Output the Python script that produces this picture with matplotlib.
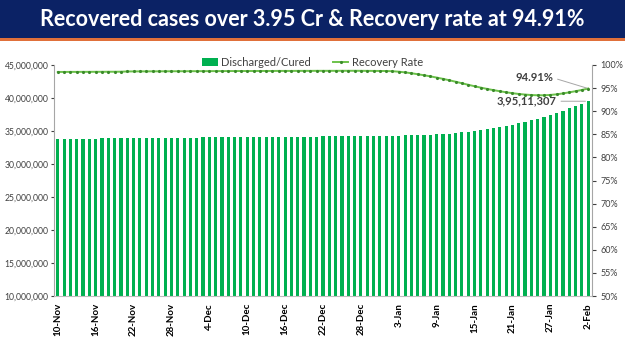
import datetime as dt
import matplotlib
matplotlib.use("Agg")
import matplotlib.pyplot as plt
import matplotlib.ticker as mticker
from matplotlib.lines import Line2D
from matplotlib.patches import Patch, Rectangle

plt.rcParams['font.family'] = ['Lato', 'DejaVu Sans']

title = "Recovered cases over 3.95 Cr & Recovery rate at 94.91%"

start = dt.date(2021, 11, 10)

# cumulative discharged / cured, millions
cured_m = [
    33.80, 33.81, 33.82, 33.83, 33.84, 33.85, 33.86, 33.87, 33.88, 33.89, 33.90,
    33.91, 33.92, 33.93, 33.94, 33.95, 33.96, 33.97, 33.97, 33.98, 33.99,
    34.00, 34.01, 34.02, 34.03, 34.04, 34.04, 34.05, 34.06, 34.07, 34.08, 34.08,
    34.09, 34.10, 34.11, 34.11, 34.12, 34.13, 34.14, 34.14, 34.15, 34.16, 34.17,
    34.17, 34.18, 34.19, 34.20, 34.20, 34.21, 34.22, 34.23, 34.24,
    34.26, 34.28, 34.30, 34.32, 34.34, 34.37, 34.40, 34.44, 34.49, 34.55, 34.62,
    34.70, 34.80, 34.90, 35.02, 35.14, 35.27, 35.42, 35.58, 35.75, 35.94, 36.15,
    36.37, 36.60, 36.85, 37.12, 37.42, 37.75, 38.08, 38.42, 38.78,
    39.16, 39.51,
]

# recovery rate, %
rate = [
    98.50, 98.50, 98.51, 98.51, 98.52, 98.52, 98.53, 98.53, 98.54, 98.54, 98.55,
    98.60, 98.61, 98.62, 98.62, 98.63, 98.63, 98.64, 98.64, 98.65, 98.65,
    98.66, 98.66, 98.67, 98.67, 98.68, 98.68, 98.69, 98.69, 98.70, 98.70, 98.70,
    98.71, 98.71, 98.71, 98.72, 98.72, 98.72, 98.73, 98.73, 98.73, 98.74, 98.74,
    98.74, 98.74, 98.75, 98.75, 98.75, 98.74, 98.73, 98.72, 98.71,
    98.70, 98.65, 98.55, 98.40, 98.22, 98.00, 97.78, 97.54, 97.28, 97.00, 96.70,
    96.38, 96.05, 95.72, 95.40, 95.10, 94.82, 94.56, 94.32, 94.10, 93.90, 93.73,
    93.60, 93.50, 93.45, 93.45, 93.52, 93.65, 93.85, 94.08, 94.33,
    94.60, 94.91,
]

last_cured_label = "3,95,11,307"
last_rate_label = "94.91%"

dates = [start + dt.timedelta(days=i) for i in range(len(cured_m))]
labels = [f"{d.day}-{d.strftime('%b')}" for d in dates]
x = list(range(len(dates)))
cured = [v * 1e6 for v in cured_m]

fig = plt.figure(figsize=(6.25, 3.51), dpi=100)

# title banner
fig.patches.append(Rectangle((0, 1 - 38 / 351), 1, 38 / 351, transform=fig.transFigure,
                             facecolor='#0b2265', edgecolor='none', zorder=0))
fig.patches.append(Rectangle((0, 1 - 41 / 351), 1, 3 / 351, transform=fig.transFigure,
                             facecolor='#e0703a', edgecolor='none', zorder=0))
fig.text(0.5, 1 - 19 / 351, title, color='white', fontsize=15.5, fontweight='bold',
         ha='center', va='center')

ax = fig.add_axes([54 / 625, 1 - 296 / 351, (592 - 54) / 625, (296 - 65) / 351])
ax.bar(x, cured, width=0.5, color='#00b050', zorder=2)
ax.set_ylim(10e6, 45e6)
ax.set_xlim(-0.6, len(x) - 0.4)
ax.yaxis.set_major_locator(mticker.MultipleLocator(5e6))
ax.yaxis.set_major_formatter(mticker.FuncFormatter(lambda v, p: f"{int(v):,}"))
ax.tick_params(axis='y', labelsize=6.2, colors='#404040', length=2, pad=2)
ax.set_xticks(x[::6])
ax.set_xticklabels(labels[::6], rotation=90, fontsize=7, fontweight='bold')
ax.tick_params(axis='x', length=0, pad=5)
for s in ['top', 'right']:
    ax.spines[s].set_visible(False)
ax.spines['left'].set_color('#a6a6a6')
ax.spines['bottom'].set_color('#bfbfbf')

ax2 = ax.twinx()
ax2.plot(x, rate, color='#6cc24a', lw=1.4, marker='.', ms=2.5, mfc='#3a8a2a',
         mec='#3a8a2a', zorder=3)
ax2.set_ylim(50, 100)
ax2.yaxis.set_major_locator(mticker.MultipleLocator(5))
ax2.yaxis.set_major_formatter(mticker.FuncFormatter(lambda v, p: f"{int(v)}%"))
ax2.tick_params(axis='y', labelsize=6.5, colors='#404040', length=3, pad=3)
for s in ['top', 'left', 'bottom']:
    ax2.spines[s].set_visible(False)
ax2.spines['right'].set_color('#a6a6a6')

# annotations
ax2.annotate(last_rate_label, xy=(x[-1], rate[-1]), xytext=(x[-1] - 8.5, 97.2),
             fontsize=8, fontweight='bold', color='#404040', ha='center', va='center',
             arrowprops=dict(arrowstyle='-', color='#a6a6a6', lw=0.7,
                             relpos=(1.0, 0.5), shrinkA=1, shrinkB=1))
ax.annotate(last_cured_label, xy=(x[-1], cured[-1]), xytext=(x[-1] - 9.7, cured[-1]),
            fontsize=8, fontweight='bold', color='#404040', ha='center', va='center',
            arrowprops=dict(arrowstyle='-', color='#a6a6a6', lw=0.7,
                            relpos=(1.0, 0.5), shrinkA=1, shrinkB=2))

handles = [Patch(facecolor='#00b050', label='Discharged/Cured'),
           Line2D([0], [0], color='#6cc24a', lw=1.4, marker='.', ms=2.5,
                  mfc='#3a8a2a', mec='#3a8a2a', label='Recovery Rate')]
fig.legend(handles=handles, loc='center', bbox_to_anchor=(0.5, 1 - 62 / 351), ncol=2,
           frameon=False, fontsize=8, handlelength=1.4, handleheight=0.7,
           columnspacing=2.0, handletextpad=0.3, labelcolor='#404040')

fig.savefig('out.png', dpi=100)
